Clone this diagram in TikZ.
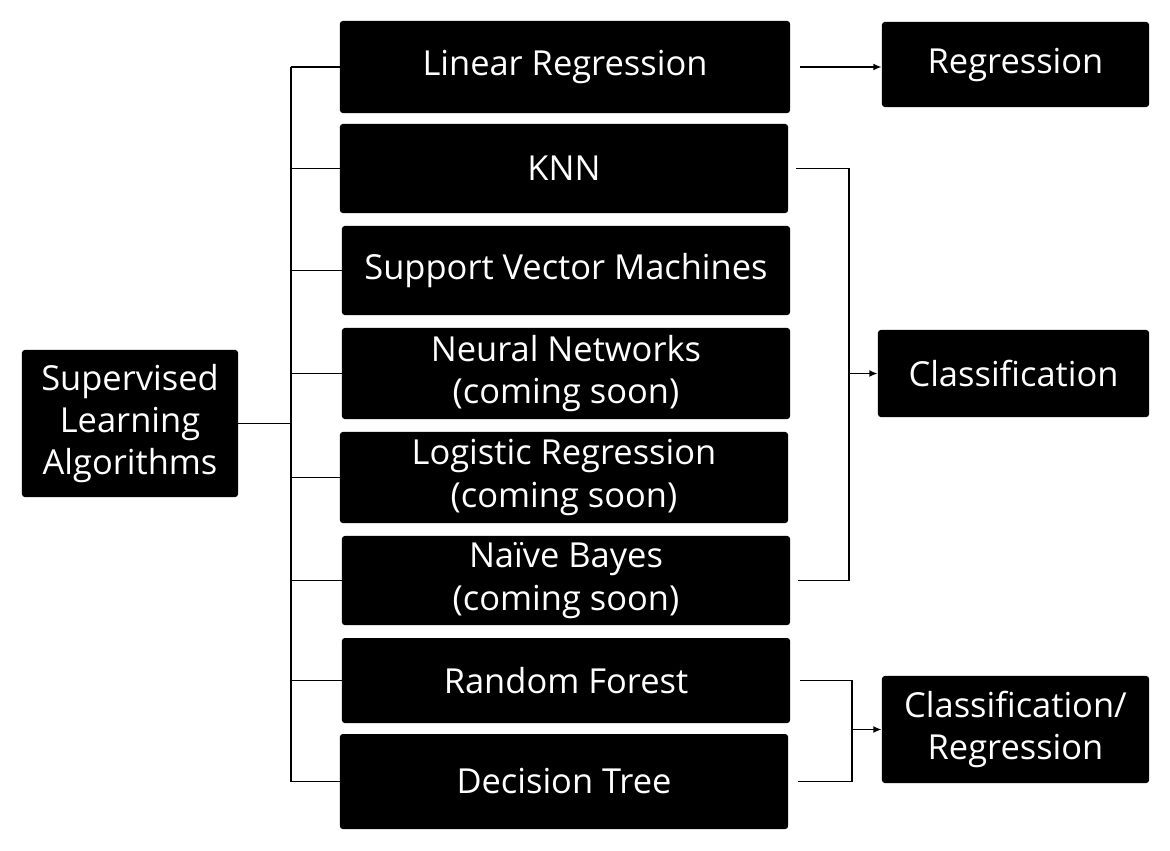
\documentclass[tikz,border=0pt]{standalone}
\usepackage{fontspec}
\setmainfont{Open Sans}
\usetikzlibrary{arrows.meta}

\tikzset{
    algbox/.style={fill=black, text=white, rounded corners=2pt, align=center,
        inner sep=0pt, font=\fontsize{24.5}{30}\selectfont},
    link/.style={line width=1.4pt}
}

\begin{document}
\begin{tikzpicture}[x=0.025cm, y=-0.025cm, >={Latex[length=6pt,width=5pt]}]
    \useasboundingbox (0,0) rectangle (1170,850);

    % Root
    \node[algbox, minimum width=5.4cm, minimum height=3.675cm] (sla) at (130,423.5) {Supervised\\Learning\\Algorithms};

    % Algorithms
    \node[algbox, minimum width=11.25cm, minimum height=2.3cm] (lin) at (565,67) {Linear Regression};
    \node[algbox, minimum width=11.2cm, minimum height=2.225cm] (knn) at (564,168.5) {KNN};
    \node[algbox, minimum width=11.2cm, minimum height=2.225cm] (svm) at (566,270.5) {Support Vector Machines};
    \node[algbox, minimum width=11.2cm, minimum height=2.275cm] (nn) at (566,373.5) {Neural Networks\\(coming soon)};
    \node[algbox, minimum width=11.2cm, minimum height=2.275cm] (lr) at (564,477.5) {Logistic Regression\\(coming soon)};
    \node[algbox, minimum width=11.2cm, minimum height=2.225cm] (nb) at (566,580.5) {Naïve Bayes\\(coming soon)};
    \node[algbox, minimum width=11.2cm, minimum height=2.125cm] (rf) at (566,680.5) {Random Forest};
    \node[algbox, minimum width=11.2cm, minimum height=2.375cm] (dt) at (564,781.5) {Decision Tree};

    % Tasks
    \node[algbox, minimum width=6.675cm, minimum height=2.125cm] (reg) at (1015.5,64.5) {Regression};
    \node[algbox, minimum width=6.775cm, minimum height=2.175cm] (cls) at (1013.5,373.5) {Classification};
    \node[algbox, minimum width=6.675cm, minimum height=2.675cm] (cr) at (1015.5,729.5) {Classification/\\Regression};

    % Trunk and branches
    \coordinate (tk) at (291,0);
    \draw[link] (sla.east) -- (sla.east -| tk);
    \draw[link] (lin.west -| tk) -- (dt.west -| tk);
    \foreach \alg in {lin, knn, svm, nn, lr, nb, rf, dt} {
        \draw[link] (\alg.west -| tk) -- (\alg.west);
    }

    % Regression
    \draw[link, ->] ([xshift=0.25cm]lin.east) -- (lin.east -| reg.west);

    % Classification bracket
    \coordinate (cb) at (849,0);
    \draw[link] ([xshift=0.2cm]knn.east) -- (knn.east -| cb) -- (nb.east -| cb) -- ([xshift=0.2cm]nb.east);
    \draw[link, ->] (cls.west -| cb) -- (cls.west);

    % Classification/Regression bracket
    \coordinate (crb) at (852,0);
    \draw[link] ([xshift=0.25cm]rf.east) -- (rf.east -| crb) -- (dt.east -| crb) -- ([xshift=0.25cm]dt.east);
    \draw[link, ->] (cr.west -| crb) -- (cr.west);
\end{tikzpicture}
\end{document}
